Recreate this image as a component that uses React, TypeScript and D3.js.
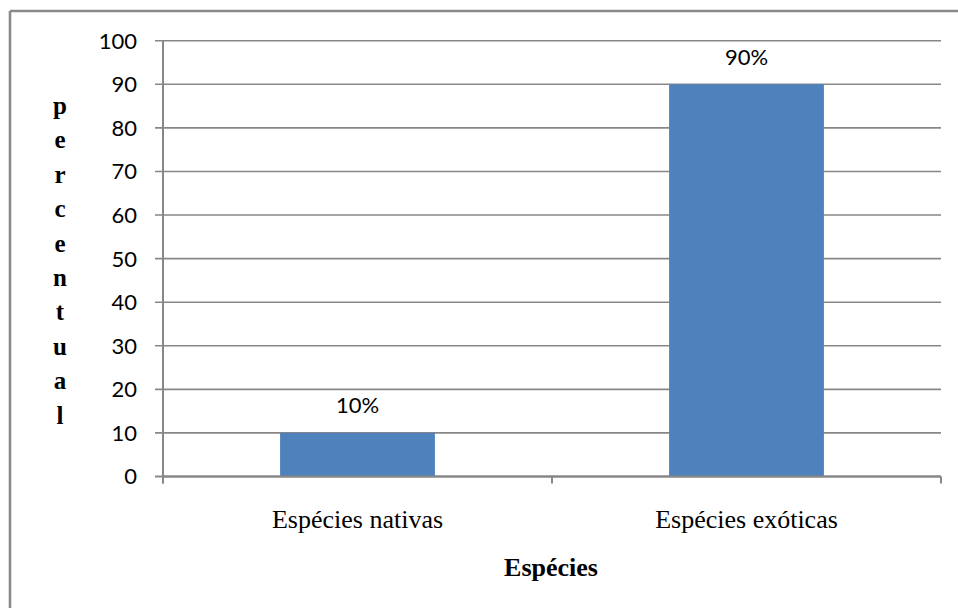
import React from "react";
import * as d3 from "d3";

const categories = ["Espécies nativas", "Espécies exóticas"];
const values = [10, 90];
const dataLabels = ["10%", "90%"];
const yTicks = [0, 10, 20, 30, 40, 50, 60, 70, 80, 90, 100];
const yTitleLetters = ["p", "e", "r", "c", "e", "n", "t", "u", "a", "l"];
const xTitle = "Espécies";

const W = 958;
const H = 608;
const left = 163;
const right = 941;
const top = 40.7;
const bottom = 476.5;

export default function App() {
  const x = d3.scaleBand<string>().domain(categories).range([left, right]).padding(0);
  const y = d3.scaleLinear().domain([0, 100]).range([bottom, top]);
  const barW = x.bandwidth() * 0.398;
  const grid = "#878787";
  const xTickPos = [left, ...categories.map((c) => (x(c) as number) + x.bandwidth())];

  return (
    <svg
      width={W}
      height={H}
      style={{ position: "absolute", left: 0, top: 0, background: "#fff" }}
    >
      <rect x={0} y={0} width={W} height={H} fill="#fff" />
      {/* outer border (top + left visible) */}
      <line x1={10} y1={11} x2={W} y2={11} stroke="#8a8a8a" strokeWidth={2.6} />
      <line x1={10} y1={11} x2={10} y2={H} stroke="#8a8a8a" strokeWidth={2.6} />

      {/* gridlines + y ticks */}
      {yTicks.map((t) => (
        <g key={t}>
          <line
            x1={155}
            x2={right}
            y1={y(t)}
            y2={y(t)}
            stroke={grid}
            strokeWidth={t === 0 ? 2 : 1.6}
          />
          <text
            x={137}
            y={y(t)}
            dy="0.36em"
            textAnchor="end"
            fontFamily="Lato, 'Open Sans', sans-serif"
            fontSize={22}
            fill="#000"
          >
            {t}
          </text>
        </g>
      ))}
      {/* y axis */}
      <line x1={left} x2={left} y1={top} y2={bottom + 7} stroke={grid} strokeWidth={2} />

      {/* bars */}
      {categories.map((c, i) => {
        const cx = (x(c) as number) + x.bandwidth() / 2;
        return (
          <g key={c}>
            <rect
              x={cx - barW / 2}
              y={y(values[i])}
              width={barW}
              height={y(0) - y(values[i])}
              fill="#4f81bd"
            />
            <text
              x={cx}
              y={y(values[i]) - 19.5}
              textAnchor="middle"
              fontFamily="Lato, 'Open Sans', sans-serif"
              fontSize={22}
              fill="#000"
            >
              {dataLabels[i]}
            </text>
            <text
              x={cx}
              y={527.5}
              textAnchor="middle"
              fontFamily="'Liberation Serif', 'Times New Roman', serif"
              fontSize={26}
              fill="#000"
            >
              {c}
            </text>
          </g>
        );
      })}
      {/* x axis line redrawn over bars */}
      <line x1={left} x2={right} y1={bottom} y2={bottom} stroke={grid} strokeWidth={2} />
      {xTickPos.map((p, i) => (
        <line key={i} x1={p} x2={p} y1={bottom} y2={bottom + 7} stroke={grid} strokeWidth={2} />
      ))}

      {/* x title */}
      <text
        x={551}
        y={576}
        textAnchor="middle"
        fontFamily="'Liberation Serif', 'Times New Roman', serif"
        fontWeight="bold"
        fontSize={26}
        fill="#000"
      >
        {xTitle}
      </text>

      {/* y title, stacked letters */}
      {yTitleLetters.map((l, i) => (
        <text
          key={i}
          x={60}
          y={114 + i * 34.4}
          textAnchor="middle"
          fontFamily="'Liberation Serif', 'Times New Roman', serif"
          fontWeight="bold"
          fontSize={25}
          fill="#000"
        >
          {l}
        </text>
      ))}
    </svg>
  );
}
